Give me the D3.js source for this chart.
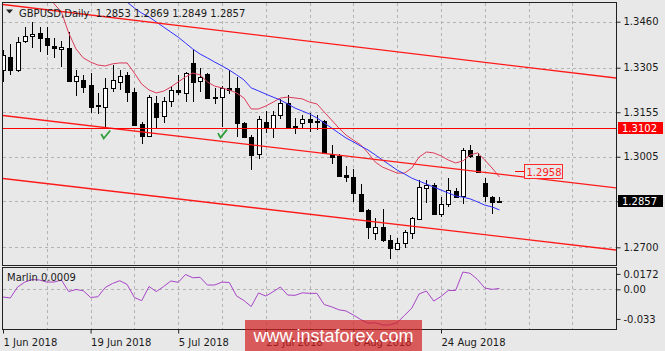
<!DOCTYPE html>
<html>
<head>
<meta charset="utf-8">
<script src="https://cdn.jsdelivr.net/npm/d3@7"></script>
<style>
  body { margin: 0; background: #e8e8e8; }
  svg { display: block; }
  text { font-family: "DejaVu Sans", sans-serif; font-size: 10px; fill: #1a1a1a; white-space: pre; }
</style>
</head>
<body>
<svg id="chart" width="665" height="351"></svg>
<script>
// GBPUSD daily, 1 Jun 2018 .. 5 Sep 2018
const symbol = "GBPUSD,Daily";
const dateLabels = ["1 Jun 2018", "19 Jun 2018", "5 Jul 2018", "23 Jul 2018", "8 Aug 2018", "24 Aug 2018"];
const dateBars = [0, 12, 24, 36, 48, 60];

const opens = [1.3297,1.3341,1.3297,1.3395,1.3412,1.3422,1.3405,1.3378,1.3368,1.3371,
  1.3260,1.3264,1.3247,1.3178,1.3173,1.3237,1.3257,1.3281,1.3223,1.3115,
  1.3075,1.3186,1.3142,1.3193,1.3230,1.3220,1.3321,1.3260,1.3284,1.3205,
  1.3206,1.3237,1.3237,1.3119,1.3071,1.3014,1.3122,1.3102,1.3146,1.3186,
  1.3108,1.3119,1.3132,1.3125,1.3125,1.3014,1.3008,1.2943,1.2937,1.2880,
  1.2826,1.2748,1.2768,1.2725,1.2694,1.2714,1.2748,1.2795,1.2900,1.2910,
  1.2812,1.2846,1.2890,1.2873,1.3028,1.3008,1.2917,1.2870,1.2853];
const highs = [1.3365,1.3385,1.3409,1.3442,1.3459,1.3442,1.3442,1.3405,1.3395,1.3425,
  1.3297,1.3281,1.3287,1.3220,1.3270,1.3314,1.3297,1.3291,1.3237,1.3122,
  1.3213,1.3210,1.3206,1.3243,1.3281,1.3291,1.3365,1.3304,1.3287,1.3237,
  1.3243,1.3297,1.3274,1.3122,1.3078,1.3142,1.3159,1.3159,1.3200,1.3213,
  1.3136,1.3146,1.3153,1.3146,1.3129,1.3045,1.3014,1.2974,1.2964,1.2913,
  1.2829,1.2799,1.2829,1.2741,1.2731,1.2758,1.2802,1.2927,1.2927,1.2917,
  1.2870,1.2933,1.2900,1.3035,1.3045,1.3018,1.2933,1.2873,1.2869];
const lows = [1.3257,1.3281,1.3291,1.3388,1.3371,1.3358,1.3348,1.3338,1.3307,1.3257,
  1.3210,1.3220,1.3153,1.3149,1.3102,1.3223,1.3230,1.3189,1.3108,1.3048,
  1.3071,1.3098,1.3119,1.3173,1.3213,1.3189,1.3189,1.3223,1.3200,1.3183,
  1.3105,1.3216,1.3071,1.3068,1.2960,1.2997,1.3085,1.3068,1.3132,1.3104,
  1.3082,1.3102,1.3088,1.3095,1.3014,1.2981,1.2937,1.2920,1.2853,1.2822,
  1.2728,1.2725,1.2718,1.2661,1.2691,1.2698,1.2728,1.2792,1.2849,1.2809,
  1.2802,1.2836,1.2869,1.2846,1.3001,1.2950,1.2853,1.2812,1.2849];
const closes = [1.3348,1.3297,1.3392,1.3412,1.3420,1.3405,1.3382,1.3371,1.3375,1.3260,
  1.3277,1.3240,1.3173,1.3173,1.3237,1.3264,1.3277,1.3223,1.3112,1.3075,
  1.3206,1.3139,1.3193,1.3230,1.3223,1.3287,1.3257,1.3274,1.3203,1.3200,
  1.3237,1.3230,1.3119,1.3071,1.3011,1.3132,1.3102,1.3146,1.3186,1.3105,
  1.3105,1.3132,1.3122,1.3122,1.3018,1.3004,1.2940,1.2937,1.2883,1.2822,
  1.2768,1.2768,1.2725,1.2698,1.2714,1.2752,1.2799,1.2903,1.2910,1.2812,
  1.2846,1.2893,1.2869,1.3028,1.3008,1.2954,1.2873,1.2853,1.2857];

// moving averages (null where the line is not on the chart)
const maRed = [null,null,null,null,null,null,1.3584,1.3520,1.3493,1.3422,
  1.3368,1.3338,1.3324,1.3314,1.3311,1.3318,1.3321,1.3321,1.3287,1.3250,
  1.3230,1.3220,1.3226,1.3240,1.3257,1.3274,1.3287,1.3281,1.3257,1.3243,
  1.3237,1.3230,1.3220,1.3203,1.3166,1.3166,1.3176,1.3189,1.3203,1.3206,
  1.3203,1.3200,1.3189,1.3183,1.3156,1.3129,1.3102,1.3078,1.3061,1.3045,
  1.3018,1.2987,1.2970,1.2960,1.2950,1.2950,1.2967,1.3004,1.3021,1.3018,
  1.3008,1.2994,1.2984,1.2991,1.3011,1.3018,1.2994,1.2967,1.2937];
const maBlue = [null,null,null,null,null,null,null,null,null,null,
  null,null,null,null,null,null,1.3540,1.3526,1.3506,1.3489,
  1.3476,1.3459,1.3442,1.3425,1.3408,1.3388,1.3368,1.3351,1.3338,1.3324,
  1.3311,1.3297,1.3281,1.3264,1.3237,1.3227,1.3216,1.3206,1.3196,1.3183,
  1.3169,1.3159,1.3149,1.3136,1.3119,1.3102,1.3085,1.3068,1.3055,1.3041,
  1.3028,1.3011,1.2994,1.2977,1.2960,1.2947,1.2933,1.2923,1.2913,1.2903,
  1.2893,1.2883,1.2873,1.2869,1.2863,1.2853,1.2842,1.2836,1.2826];

// Marlin oscillator
const marlin = [-0.0086,-0.0097,0.0026,0.0081,0.0109,0.0104,0.0081,0.0081,0.0104,-0.0025,
  -0.0002,-0.0016,-0.0091,-0.0083,0.0020,0.0065,0.0096,0.0054,-0.0091,-0.0127,
  0.0031,-0.0025,0.0031,0.0093,0.0078,0.0165,0.0129,0.0134,0.0048,0.0048,
  0.0081,0.0076,-0.0075,-0.0125,-0.0192,-0.0041,-0.0075,-0.0027,0.0026,-0.0064,
  -0.0067,-0.0039,-0.0045,-0.0045,-0.0170,-0.0195,-0.0228,-0.0242,-0.0287,-0.0337,
  -0.0379,-0.0373,-0.0398,-0.0398,-0.0370,-0.0292,-0.0209,-0.0052,-0.0019,-0.0131,
  -0.0080,-0.0013,-0.0013,0.0193,0.0178,0.0109,0.0014,0.0000,0.0009];

const priceTicks = [1.3460, 1.3305, 1.3155, 1.3005, 1.2855, 1.2700];
const marlinTicks = [0.0172, 0.00, -0.033];
const marlinTickLabels = ["0.0172", "0.00", "-0.033"];

// channel lines: [bar, price] at both ends
const chanTop = [[0, 1.3518], [84, 1.3270]];
const chanMid = [[0, 1.3144], [84, 1.2900]];
const chanLow = [[0, 1.2932], [84, 1.2691]];
const levelLine = 1.3102;
const priceNote = 1.2958;
const checkBars = [14, 30];

const svg = d3.select("#chart");
const x = d3.scaleLinear().domain([0, 84]).range([3, 616.2]);
const y = d3.scaleLinear().domain([1.2700, 1.3460]).range([247.3, 21.7]);
const yI = d3.scaleLinear().domain([-0.033, 0.0172]).range([318.9, 273.9]);

const L = 2.5, R = 616.5, T = 2.5, B = 265, IT = 267.5, IB = 329.5;

svg.append("rect").attr("width", 665).attr("height", 351).attr("fill", "#e8e8e8");

const defs = svg.append("defs");
defs.append("clipPath").attr("id", "cm").append("rect")
  .attr("x", L + 0.5).attr("y", T + 0.5).attr("width", R - L - 1).attr("height", B - T - 1);
defs.append("clipPath").attr("id", "ci").append("rect")
  .attr("x", L + 0.5).attr("y", IT + 0.5).attr("width", R - L - 1).attr("height", IB - IT - 1);

// grid
const grid = svg.append("g").attr("stroke", "#b4b4b4").attr("stroke-dasharray", "3,3")
  .attr("shape-rendering", "crispEdges");
const vgrid = d3.range(6, 84, 6);
grid.selectAll(".vm").data(vgrid).enter().append("line")
  .attr("x1", d => Math.round(x(d)) + 0.5).attr("x2", d => Math.round(x(d)) + 0.5)
  .attr("y1", T).attr("y2", B);
grid.selectAll(".vi").data(vgrid).enter().append("line")
  .attr("x1", d => Math.round(x(d)) + 0.5).attr("x2", d => Math.round(x(d)) + 0.5)
  .attr("y1", IT).attr("y2", IB);
grid.selectAll(".hm").data(priceTicks).enter().append("line")
  .attr("x1", L).attr("x2", R)
  .attr("y1", d => Math.round(y(d)) + 0.5).attr("y2", d => Math.round(y(d)) + 0.5);
grid.append("line").attr("x1", L).attr("x2", R)
  .attr("y1", Math.round(yI(0)) + 0.5).attr("y2", Math.round(yI(0)) + 0.5);

// candles
const main = svg.append("g").attr("clip-path", "url(#cm)");
const bars = d3.range(opens.length);
const cx = i => Math.round(x(i)) + 0.5;
main.append("g").selectAll("line").data(bars).enter().append("line")
  .attr("x1", cx).attr("x2", cx)
  .attr("y1", i => y(highs[i])).attr("y2", i => y(lows[i]))
  .attr("stroke", "#000").attr("shape-rendering", "crispEdges");
main.append("g").selectAll("rect").data(bars).enter().append("rect")
  .attr("x", i => cx(i) - 2).attr("width", 4)
  .attr("y", i => Math.round(y(Math.max(opens[i], closes[i]))) + 0.5)
  .attr("height", i => Math.max(0, Math.round(Math.abs(y(opens[i]) - y(closes[i])))))
  .attr("fill", i => closes[i] >= opens[i] ? "#fff" : "#000")
  .attr("stroke", "#000").attr("shape-rendering", "crispEdges");

// moving averages
const maLine = d3.line().defined(d => d != null).x((d, i) => x(i)).y(d => y(d));
main.append("path").datum(maRed).attr("d", maLine)
  .attr("fill", "none").attr("stroke", "#dc3c5a").attr("stroke-width", 1);
main.append("path").datum(maBlue).attr("d", maLine)
  .attr("fill", "none").attr("stroke", "#3030ff").attr("stroke-width", 1);

// channel + level
[chanTop, chanMid, chanLow].forEach(c => {
  main.append("line")
    .attr("x1", x(c[0][0])).attr("y1", y(c[0][1]))
    .attr("x2", x(c[1][0])).attr("y2", y(c[1][1]))
    .attr("stroke", "#ff1a1a").attr("stroke-width", 1.4);
});
main.append("line").attr("x1", L).attr("x2", R)
  .attr("y1", Math.round(y(levelLine)) + 0.5).attr("y2", Math.round(y(levelLine)) + 0.5)
  .attr("stroke", "#ff0000").attr("shape-rendering", "crispEdges");

// check marks
main.selectAll(".chk").data(checkBars).enter().append("path")
  .attr("d", i => {
    const a = x(i), b = y(lows[i]);
    return `M${a - 4},${b + 6} L${a - 1.5},${b + 10.5} L${a + 5},${b + 2.5}`;
  })
  .attr("fill", "none").attr("stroke", "#2f9e3a").attr("stroke-width", 1.8);

// price note 1.2958
const ny = Math.round(y(priceNote)) + 0.5;
svg.append("line").attr("x1", 515).attr("x2", 525).attr("y1", ny).attr("y2", ny)
  .attr("stroke", "#ff0000").attr("shape-rendering", "crispEdges");
svg.append("rect").attr("x", 524.5).attr("y", ny - 7).attr("width", 38).attr("height", 14)
  .attr("fill", "#e8e8e8").attr("stroke", "#ff2a2a").attr("shape-rendering", "crispEdges");
svg.append("text").attr("x", 526.5).attr("y", ny + 4).style("fill", "#ff2020")
  .text(d3.format(".4f")(priceNote));

// indicator
const indG = svg.append("g").attr("clip-path", "url(#ci)");
indG.append("path").datum(marlin)
  .attr("d", d3.line().x((d, i) => x(i)).y(d => yI(d)))
  .attr("fill", "none").attr("stroke", "#a845c8").attr("stroke-width", 1);
svg.append("text").attr("x", 7).attr("y", 281)
  .text("Marlin " + d3.format(".4f")(marlin[marlin.length - 1]));

// frames
svg.append("rect").attr("x", L).attr("y", T).attr("width", R - L).attr("height", B - T)
  .attr("fill", "none").attr("stroke", "#222").attr("shape-rendering", "crispEdges");
svg.append("rect").attr("x", L).attr("y", IT).attr("width", R - L).attr("height", IB - IT)
  .attr("fill", "none").attr("stroke", "#222").attr("shape-rendering", "crispEdges");

// axes
const pa = svg.append("g").attr("transform", `translate(${R},0)`)
  .call(d3.axisRight(y).tickValues(priceTicks).tickSize(4).tickPadding(3).tickFormat(d3.format(".4f")));
const ia = svg.append("g").attr("transform", `translate(${R},0)`)
  .call(d3.axisRight(yI).tickValues(marlinTicks).tickSize(4).tickPadding(3)
    .tickFormat((d, i) => marlinTickLabels[i]));
const da = svg.append("g").attr("transform", `translate(0,${IB})`)
  .call(d3.axisBottom(x).tickValues(dateBars).tickSize(4).tickPadding(3)
    .tickFormat((d, i) => dateLabels[i]));
[pa, ia, da].forEach(a => {
  a.select(".domain").remove();
  a.selectAll("line").attr("stroke", "#222");
  a.selectAll("text").attr("font-family", "DejaVu Sans").attr("font-size", 10).attr("fill", "#1a1a1a");
});
da.selectAll("text").attr("text-anchor", "start").attr("dy", "0.9em");

// price tags
function tag(p, bg) {
  const ty = Math.round(y(p));
  svg.append("rect").attr("x", 618).attr("y", ty - 6).attr("width", 45).attr("height", 12).attr("fill", bg);
  svg.append("text").attr("x", 622).attr("y", ty + 4).style("fill", "#fff").text(d3.format(".4f")(p));
}
tag(levelLine, "#ff0000");
tag(closes[closes.length - 1], "#000");

// header
svg.append("path").attr("d", "M6,9.5 L13,9.5 L9.5,13.5 Z").attr("fill", "#222");
const last = opens.length - 1;
svg.append("text").attr("x", 19).attr("y", 16.5)
  .text(`${symbol}  ${d3.format(".4f")(opens[last])} ${d3.format(".4f")(highs[last])} ${d3.format(".4f")(lows[last])} ${d3.format(".4f")(closes[last])}`);

// watermark
svg.append("rect").attr("x", 245).attr("y", 320).attr("width", 177).attr("height", 31)
  .attr("fill", "rgba(210,30,30,0.7)");
svg.append("text").attr("x", 333.5).attr("y", 342).attr("text-anchor", "middle")
  .style("font-family", "Liberation Sans, Arial, sans-serif").style("font-size", "18px").style("fill", "#fff")
  .text("www.instaforex.com");
</script>
</body>
</html>
